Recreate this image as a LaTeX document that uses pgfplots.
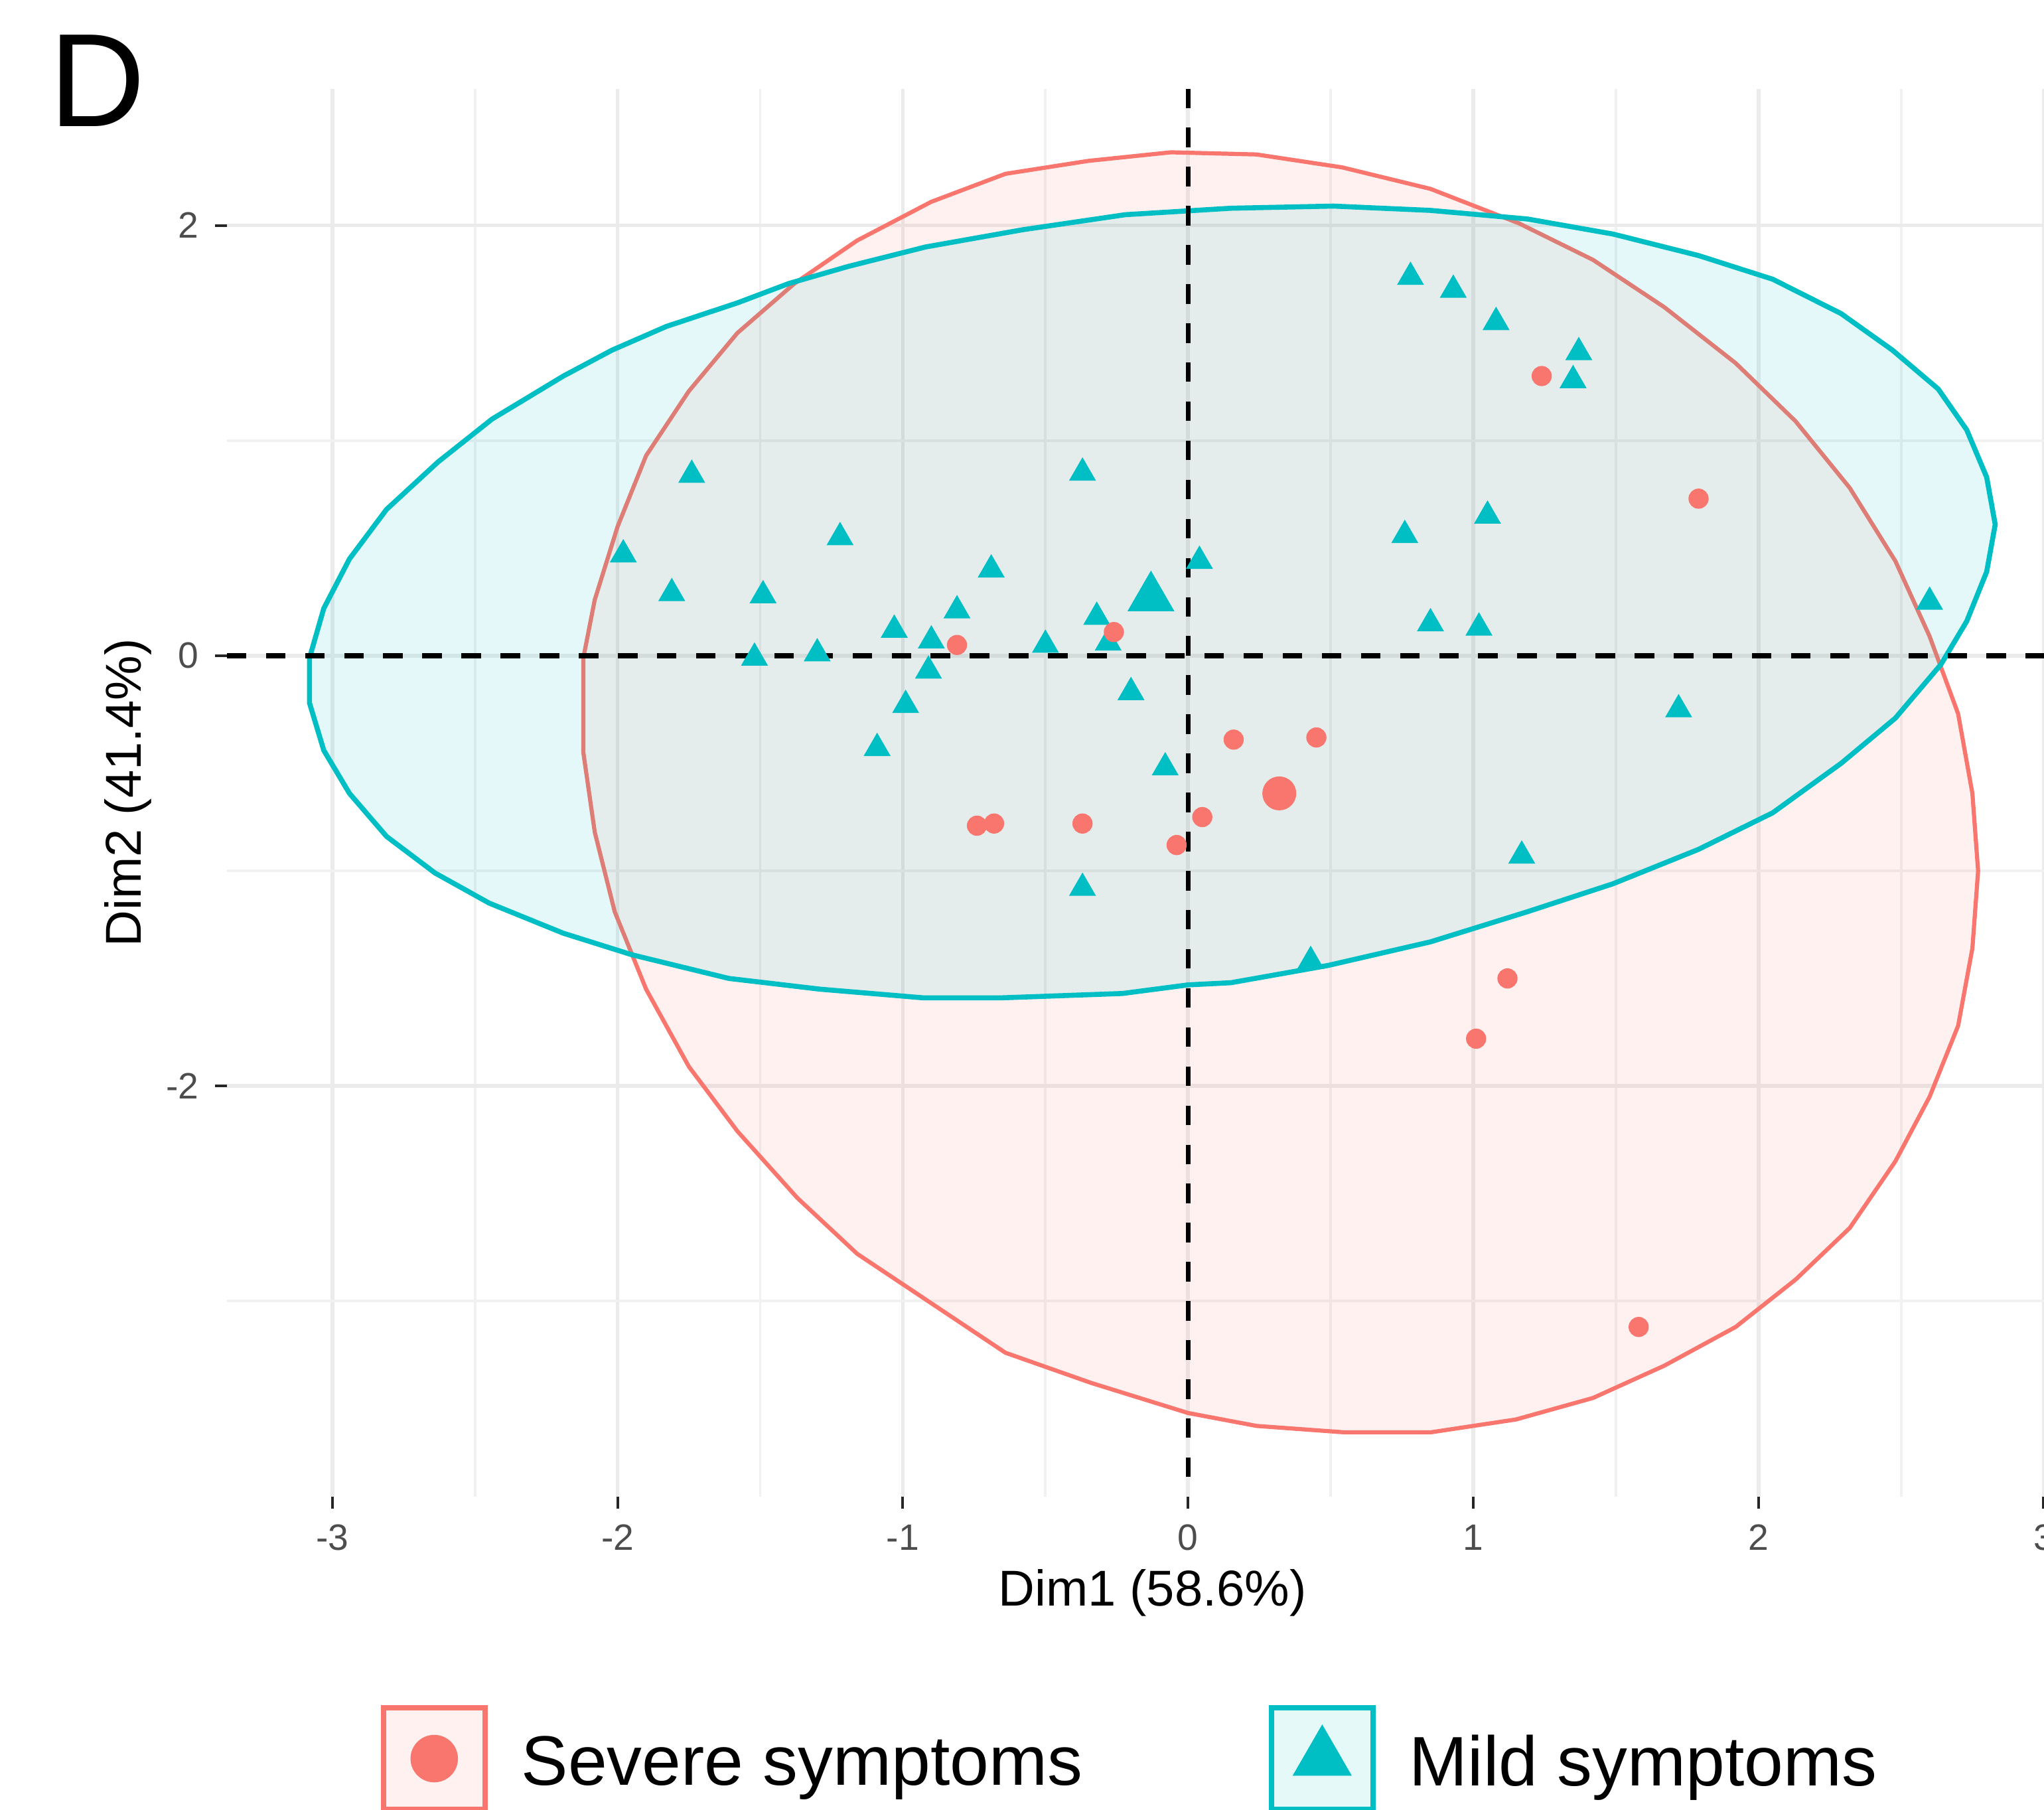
\documentclass[border=0pt]{standalone}
\usepackage{pgfplots}
\pgfplotsset{compat=1.18}
\usepackage{fontspec}
\setmainfont{Liberation Sans}
\definecolor{sev}{HTML}{F8766D}
\definecolor{mild}{HTML}{00BFC4}
\definecolor{tickgray}{HTML}{4D4D4D}
\definecolor{gridmaj}{HTML}{EBEBEB}
\definecolor{gridmin}{HTML}{F1F1F1}

\begin{document}
\begin{tikzpicture}
\begin{axis}[
    name=ax,
    scale only axis,
    width=14.2cm, height=10.8cm,
    xmin=-3.37, xmax=3.12, ymin=-3.909, ymax=2.636,
    xtick={-3,-2,-1,0,1,2,3}, xticklabels={-3,-2,-1,0,1,2,3},
    ytick={-2,0,2}, yticklabels={-2,0,2},
    minor xtick={-2.5,-1.5,-0.5,0.5,1.5,2.5},
    minor ytick={-3,-1,1},
    grid=both,
    major grid style={gridmaj, line width=0.8pt},
    minor grid style={gridmin, line width=0.55pt},
    axis line style={draw=none},
    tick align=outside, tick pos=left,
    major tick length=0.09cm, minor tick length=0pt,
    tick style={black!85, line width=0.6pt},
    tick label style={font=\fontsize{8}{9.6}\selectfont, text=tickgray},
    xlabel={Dim1 (58.6\%)}, ylabel={Dim2 (41.4\%)},
    label style={font=\fontsize{11}{13}\selectfont},
    xlabel style={at={(axis description cs:0.5,-0.0685)}, anchor=center},
    ylabel style={at={(axis description cs:-0.0535,0.5)}, anchor=center},
    legend columns=2,
    legend style={draw=none, fill=none,
        at={(axis description cs:0.0753,-0.186)}, anchor=west,
        font=\fontsize{15.3}{18}\selectfont, nodes={inner sep=0pt},
        /tikz/every odd column/.append style={column sep=0.26cm},
        /tikz/every even column/.append style={column sep=1.43cm}},
]

% legend keys
\addlegendimage{legend image code/.code={
    \draw[sev, line width=1.1pt, fill=sev!10] (0cm,-0.35cm) rectangle (0.78cm,0.43cm);
    \fill[sev] (0.39cm,0.04cm) circle (0.175cm);}}
\addlegendentry{Severe symptoms}
\addlegendimage{legend image code/.code={
    \draw[mild, line width=1.1pt, fill=mild!10] (0cm,-0.35cm) rectangle (0.78cm,0.43cm);
    \fill[mild] (0.39cm,0.04cm) ++(90:0.248cm) -- ++(-120:0.43cm) -- ++(0:0.43cm) -- cycle;}}
\addlegendentry{Mild symptoms}

% individuals, mild
\addplot[only marks, mark=triangle*, mark size=3pt, mild, mark options={draw=none, fill=mild}]
coordinates {
    (0.78,1.76) (0.93,1.70) (1.08,1.55) (1.37,1.41) (1.35,1.28)
    (-1.74,0.84) (-0.37,0.85) (-1.98,0.47) (-1.22,0.55) (-0.69,0.40)
    (0.76,0.56) (1.05,0.65) (0.04,0.44) (-1.81,0.29) (-1.49,0.28)
    (2.60,0.25) (-0.81,0.21) (-0.32,0.18) (-1.03,0.12) (-0.90,0.07)
    (-0.28,0.06) (-0.50,0.05) (0.85,0.15) (1.02,0.13) (-1.52,-0.01)
    (-1.30,0.01) (-0.91,-0.07) (-0.20,-0.17) (-0.99,-0.23) (1.72,-0.25)
    (-1.09,-0.43) (-0.08,-0.52) (1.17,-0.93) (-0.37,-1.08) (0.43,-1.42)
};

% individuals, severe
\addplot[only marks, mark=*, mark size=2pt, sev, mark options={draw=none, fill=sev}]
coordinates {
    (1.24,1.30) (1.79,0.73) (-0.81,0.05) (-0.26,0.11) (0.16,-0.39)
    (0.45,-0.38) (0.05,-0.75) (-0.04,-0.88) (-0.74,-0.79) (-0.68,-0.78)
    (-0.37,-0.78) (1.12,-1.50) (1.01,-1.78) (1.58,-3.12)
};

% concentration ellipse, severe
\addplot[sev, line width=0.9pt, fill=sev, fill opacity=0.1]
coordinates {
    (-0.06,2.34) (-0.35,2.30) (-0.64,2.24) (-0.90,2.11) (-1.16,1.93)
    (-1.38,1.73) (-1.58,1.50) (-1.75,1.23) (-1.90,0.93) (-2.00,0.60)
    (-2.08,0.26) (-2.12,-0.01) (-2.12,-0.45) (-2.08,-0.82) (-2.01,-1.19)
    (-1.90,-1.55) (-1.75,-1.91) (-1.58,-2.21) (-1.37,-2.52) (-1.16,-2.78)
    (-0.90,-3.01) (-0.64,-3.24) (-0.34,-3.38) (0.00,-3.52) (0.24,-3.58)
    (0.55,-3.61) (0.85,-3.61) (1.15,-3.55) (1.42,-3.45) (1.67,-3.30)
    (1.92,-3.12) (2.13,-2.90) (2.32,-2.66) (2.48,-2.35) (2.60,-2.05)
    (2.70,-1.72) (2.75,-1.36) (2.77,-1.00) (2.75,-0.64) (2.70,-0.27)
    (2.60,0.09) (2.48,0.44) (2.32,0.78) (2.13,1.09) (1.92,1.36)
    (1.67,1.62) (1.42,1.84) (1.16,2.01) (0.85,2.17) (0.54,2.27)
    (0.24,2.33)
} -- cycle;

% concentration ellipse, mild
\addplot[mild, line width=1.1pt, fill=mild, fill opacity=0.1]
coordinates {
    (-3.08,-0.01) (-3.08,-0.22) (-3.03,-0.44) (-2.94,-0.64) (-2.81,-0.84)
    (-2.64,-1.01) (-2.45,-1.15) (-2.19,-1.29) (-1.95,-1.39) (-1.61,-1.50)
    (-1.29,-1.55) (-0.93,-1.59) (-0.65,-1.59) (-0.23,-1.57) (0.00,-1.53)
    (0.15,-1.52) (0.49,-1.44) (0.85,-1.33) (1.19,-1.19) (1.49,-1.06)
    (1.79,-0.90) (2.05,-0.73) (2.29,-0.50) (2.48,-0.29) (2.64,-0.04)
    (2.73,0.16) (2.80,0.39) (2.83,0.61) (2.80,0.83) (2.73,1.05)
    (2.63,1.24) (2.47,1.42) (2.29,1.59) (2.05,1.75) (1.79,1.86)
    (1.49,1.96) (1.19,2.03) (0.85,2.07) (0.51,2.09) (0.15,2.08)
    (-0.22,2.05) (-0.58,1.98) (-0.92,1.90) (-1.19,1.81) (-1.40,1.73)
    (-1.58,1.64) (-1.83,1.53) (-2.02,1.42) (-2.19,1.30) (-2.44,1.10)
    (-2.63,0.90) (-2.81,0.68) (-2.94,0.45) (-3.03,0.22)
} -- cycle;

% group means
\addplot[only marks, mark=*, mark size=3.5pt, sev, mark options={draw=none, fill=sev}]
coordinates {(0.32,-0.64)};
\addplot[only marks, mark=triangle*, mark size=5.5pt, mild, mark options={draw=none, fill=mild}]
coordinates {(-0.13,0.27)};

% origin lines
\addplot[black, line width=1.05pt, dash pattern=on 0.15cm off 0.15cm]
coordinates {(-3.37,0) (3.12,0)};
\addplot[black, line width=1.05pt, dash pattern=on 0.15cm off 0.15cm]
coordinates {(0,2.636) (0,-3.909)};

\end{axis}
\pgfresetboundingbox
\path[use as bounding box] ([shift={(-1.74cm,-2.40cm)}]ax.south west)
    rectangle ([shift={(13.94cm,0.68cm)}]ax.north west);
\node[anchor=base west, font=\fontsize{29}{34}\selectfont, inner sep=0pt]
    at ([shift={(-1.37cm,-0.29cm)}]ax.north west) {D};
\end{tikzpicture}
\end{document}
